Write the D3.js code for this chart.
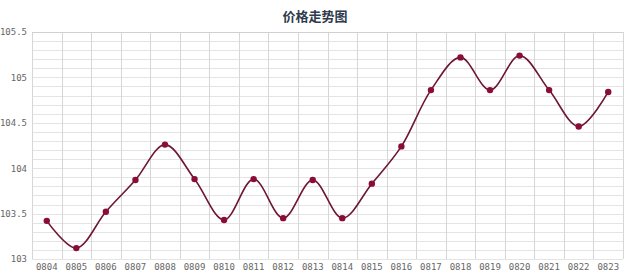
<!DOCTYPE html>
<html><head><meta charset="utf-8">
<script src="https://cdn.jsdelivr.net/npm/d3@7"></script>
<style>body{margin:0;background:#fff}svg{display:block}</style>
</head><body>
<svg id="c" width="640" height="278"></svg>
<script>
const categories = ["0804","0805","0806","0807","0808","0809","0810","0811","0812","0813","0814","0815","0816","0817","0818","0819","0820","0821","0822","0823"];
const prices = [103.42,103.12,103.52,103.87,104.26,103.88,103.43,103.88,103.45,103.87,103.45,103.83,104.24,104.86,105.22,104.86,105.24,104.86,104.46,104.84];
const yTicks = [103,103.5,104,104.5,105,105.5];
const yMinor = d3.range(103, 105.51, 0.1);
const title = "价格走势图";

const svg = d3.select("#c");
const m = {l:32, r:17, t:32, b:19};
const W = 640, H = 278;
const x = d3.scaleBand().domain(categories).range([m.l, W - m.r]);
const y = d3.scaleLinear().domain([103, 105.5]).range([H - m.b, m.t]);

// horizontal grid
svg.append("g").selectAll("line").data(yMinor).join("line")
  .attr("x1", m.l).attr("x2", W - m.r)
  .attr("y1", d => Math.round(y(d)) + 0.5).attr("y2", d => Math.round(y(d)) + 0.5)
  .attr("stroke", "#e4e4e4").attr("stroke-width", 1);
// vertical grid
const bounds = categories.map(c => x(c)).concat([W - m.r]);
svg.append("g").selectAll("line").data(bounds).join("line")
  .attr("x1", d => Math.round(d) + 0.5).attr("x2", d => Math.round(d) + 0.5)
  .attr("y1", m.t).attr("y2", H - m.b)
  .attr("stroke", "#d6d6d6").attr("stroke-width", 1);
// top border
svg.append("line").attr("x1", m.l).attr("x2", W - m.r)
  .attr("y1", m.t + 0.5).attr("y2", m.t + 0.5).attr("stroke", "#d0d0d0");

// y axis labels
const yAxis = d3.axisLeft(y).tickValues(yTicks).tickSize(0).tickPadding(5).tickFormat(d => String(d));
const ya = svg.append("g").attr("transform", `translate(${m.l},0)`).call(yAxis);
ya.select(".domain").remove();
ya.selectAll("text").attr("fill", "#666").attr("font-size", 9).attr("font-family", "DejaVu Sans Mono, monospace");

// x axis labels
const xAxis = d3.axisBottom(x).tickSize(0).tickPadding(5);
const xa = svg.append("g").attr("transform", `translate(0,${H - m.b})`).call(xAxis);
xa.select(".domain").remove();
xa.selectAll("text").attr("fill", "#666").attr("font-size", 9).attr("font-family", "DejaVu Sans Mono, monospace");

// line
const line = d3.line().x((d, i) => x(categories[i]) + x.bandwidth() / 2).y(d => y(d)).curve(d3.curveCatmullRom.alpha(0.5));
svg.append("path").datum(prices).attr("d", line)
  .attr("fill", "none").attr("stroke", "#6e1535").attr("stroke-width", 1.6);
svg.append("g").selectAll("circle").data(prices).join("circle")
  .attr("cx", (d, i) => x(categories[i]) + x.bandwidth() / 2).attr("cy", d => y(d))
  .attr("r", 3.2).attr("fill", "#8a0c38");

svg.append("text").attr("x", 315).attr("y", 21).attr("text-anchor", "middle")
  .attr("font-family", "Noto Sans CJK SC").attr("font-weight", "bold").attr("font-size", 13)
  .attr("fill", "#2f3b4c").text(title);
</script>
</body></html>
